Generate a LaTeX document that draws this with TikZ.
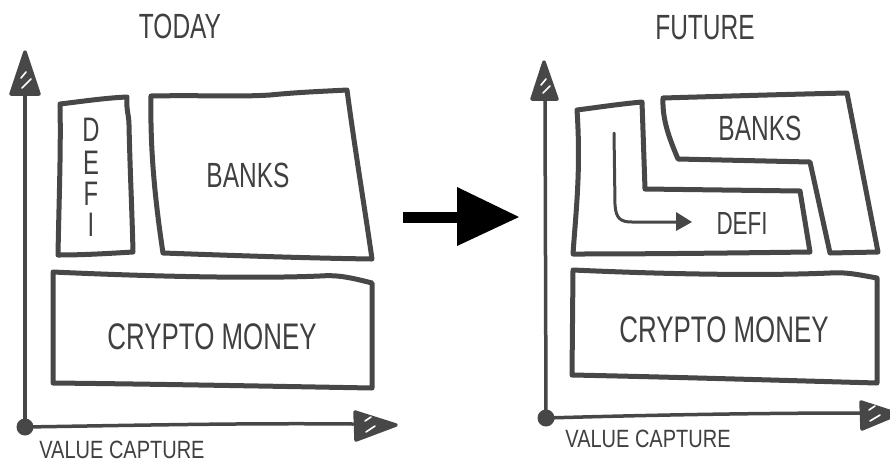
\documentclass[tikz,border=0pt]{standalone}
\usepackage{fontspec}
\setmainfont{Liberation Sans}[FakeStretch=0.7]
\newfontfamily\widefont{Liberation Sans}[FakeStretch=0.8]
\definecolor{ink}{HTML}{474747}
\definecolor{txt}{HTML}{404040}
\begin{document}
\begin{tikzpicture}[x=1pt,y=-1pt,
  box/.style={draw=ink,line width=5pt,line join=round,line cap=round},
  axisline/.style={draw=ink,line width=3.5pt,line cap=round},
  tipshape/.style={draw=ink,fill=ink,line width=3.5pt,line join=round},
  hatch/.style={draw=white,line width=1.6pt,line cap=round},
  lbl/.style={text=txt,inner sep=0pt,anchor=center},
  big/.style={lbl,font=\fontsize{35}{35}\selectfont},
  small/.style={lbl,font=\widefont\fontsize{25}{25}\selectfont}]
\useasboundingbox (0,0) rectangle (890,464);

% ---------- LEFT PANEL ----------
\node[big] (today) at (180,26) {TODAY};
% axes
\coordinate (o1) at (25,427);
\coordinate (y1) at (25,95);
\coordinate (x1) at (353,424);
\draw[axisline] (o1) -- (y1);
\draw[axisline] (o1) .. controls (150,425) and (250,423) .. (x1);
\fill[ink] (o1) circle (8.5);
\draw[tipshape] (25,52) -- (39,94) -- (11,94) -- cycle;
\draw[hatch] (21,78) -- (26,72);
\draw[hatch] (22,88) -- (31,79);
\draw[tipshape] (396,425) -- (355,412) -- (356,440) -- cycle;
\draw[hatch] (365,421) -- (371,417);
\draw[hatch] (366,432) -- (375,426);
\node[small] (vc1) at (122,450) {VALUE CAPTURE};

% DEFI box
\draw[box] (60,104) .. controls (85,101) and (105,98) .. (127,97)
  .. controls (126,110) and (129,115) .. (129,125)
  .. controls (130,170) and (132,210) .. (133,252)
  .. controls (100,254) and (80,255) .. (58,255)
  .. controls (59,200) and (61,150) .. (60,104) -- cycle;
\node[lbl,font=\fontsize{34}{34}\selectfont] (dD) at (91,130) {D};
\node[lbl,font=\fontsize{34}{34}\selectfont] (dE) at (91,163) {E};
\node[lbl,font=\fontsize{34}{34}\selectfont] (dF) at (91,194) {F};
\node[lbl,font=\fontsize{34}{34}\selectfont] (dI) at (91,225) {I};

% BANKS box
\draw[box] (151,96) .. controls (200,95) and (240,97) .. (270,95)
  .. controls (300,92) and (330,91) .. (347,90)
  .. controls (355,150) and (365,210) .. (372,259)
  .. controls (300,258) and (220,255) .. (163,253)
  .. controls (155,200) and (150,150) .. (151,96) -- cycle;
\node[big] (banks1) at (248,175) {BANKS};

% CRYPTO MONEY box
\draw[box] (53,272) .. controls (140,276) and (250,279) .. (320,276)
  .. controls (335,275) and (345,276) .. (372,283)
  -- (372,388)
  .. controls (260,386) and (150,384) .. (53,383) -- cycle;
\node[lbl,font=\fontsize{37}{37}\selectfont] (crypto1) at (212,337) {CRYPTO MONEY};

% ---------- MIDDLE ARROW ----------
\fill[black] (403,212) rectangle (460,223);
\fill[black] (457,187) -- (519,217) -- (457,246) -- cycle;

% ---------- RIGHT PANEL ----------
\node[big] (future) at (705,28) {FUTURE};
\coordinate (o2) at (546,418);
\coordinate (y2) at (545,99);
\coordinate (x2) at (860,413);
\draw[axisline] (o2) -- (y2);
\draw[axisline] (o2) .. controls (650,415) and (760,413) .. (x2);
\fill[ink] (o2) circle (8.5);
\draw[tipshape] (544,62) -- (557,99) -- (532,99) -- cycle;
\draw[hatch] (541,85) -- (546,79);
\draw[hatch] (543,93) -- (550,86);
\draw[tipshape] (898,414) -- (861,402) -- (862,429) -- cycle;
\draw[hatch] (869,410) -- (875,406);
\draw[hatch] (870,421) -- (880,415);
\node[small] (vc2) at (648,439) {VALUE CAPTURE};

% DEFI L-shape
\draw[box] (577,110) .. controls (600,107) and (620,104) .. (642,102)
  .. controls (643,130) and (644,160) .. (645,189)
  -- (800,191)
  -- (810,252)
  .. controls (730,253) and (650,254) .. (573,254)
  .. controls (576,210) and (581,170) .. (577,110) -- cycle;
\node[lbl,font=\fontsize{32}{32}\selectfont] (defi2) at (742,223) {DEFI};
% inner arrow
\coordinate (a0) at (614,133);
\coordinate (a1) at (678,222);
\draw[ink,line width=3pt,line cap=round] (a0) -- (615,205)
  .. controls (616,218) and (620,222) .. (632,222) -- (a1);
\fill[ink] (676,212) -- (692,222) -- (676,231) -- cycle;

% BANKS shape
\draw[box] (663,98) .. controls (730,96) and (800,94) .. (847,93)
  -- (878,252) -- (830,253)
  -- (810,162)
  -- (678,159)
  .. controls (670,140) and (662,120) .. (663,98) -- cycle;
\node[big] (banks2) at (760,128) {BANKS};

% CRYPTO MONEY box
\draw[box] (573,270) .. controls (660,274) and (760,276) .. (830,273)
  .. controls (845,272) and (855,274) .. (877,278)
  -- (877,383)
  .. controls (770,380) and (670,377) .. (572,375) -- cycle;
\node[lbl,font=\fontsize{37}{37}\selectfont] (crypto2) at (724,330) {CRYPTO MONEY};
\end{tikzpicture}
\end{document}
